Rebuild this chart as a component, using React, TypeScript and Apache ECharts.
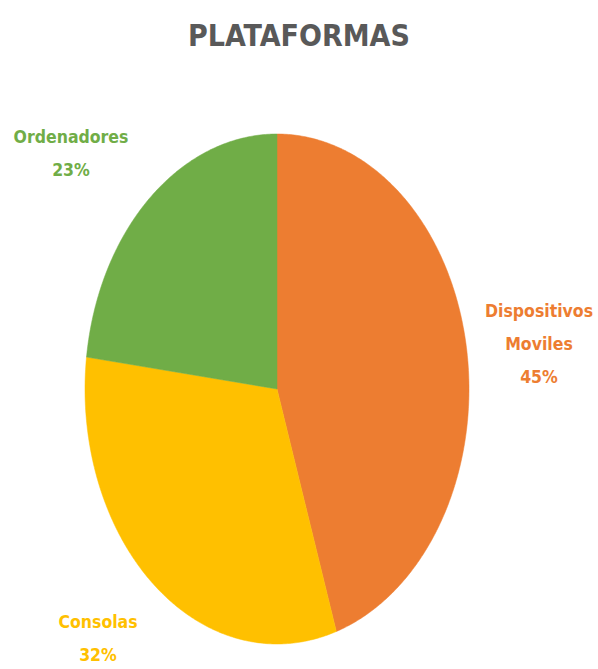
import React, { useEffect, useRef } from "react";
import * as echarts from "echarts";

const categories = ["Dispositivos Moviles", "Consolas", "Ordenadores"];
const labelLines = ["Dispositivos\nMoviles", "Consolas", "Ordenadores"];
const values = [45, 32, 23];
const colors = ["#ED7D31", "#FFC000", "#70AD47"];
const titleText = "PLATAFORMAS";

// layout (pixels)
const CX = 277;
const CY = 389;
const RX = 192;
const RY = 255;
const labelPos: [number, number][] = [
  [539, 344],
  [98, 638],
  [71, 153],
];

export default function App() {
  const ref = useRef<HTMLDivElement>(null);
  useEffect(() => {
    document.body.style.margin = "0";
    const chart = echarts.init(ref.current!, null, { renderer: "svg" });
    const total = values.reduce((a, b) => a + b, 0);
    const starts: number[] = [];
    let acc = 0;
    values.forEach((v) => {
      starts.push(acc);
      acc += v;
    });
    const font = "bold 17.5px 'DejaVu Sans Condensed', sans-serif";
    chart.setOption({
      animation: false,
      title: {
        text: titleText,
        left: "center",
        top: 15,
        textStyle: {
          color: "#595959",
          fontSize: 30,
          fontWeight: "bold",
          fontFamily: "'DejaVu Sans Condensed', sans-serif",
        },
      },
      series: [
        {
          type: "custom",
          coordinateSystem: "none",
          data: categories.map((c, i) => ({ name: c, value: values[i] })),
          renderItem: (params: any, api: any) => {
            const i = params.dataIndex;
            const v = api.value(0) as number;
            const a0 = (starts[i] / total) * Math.PI * 2;
            const a1 = ((starts[i] + v) / total) * Math.PI * 2;
            const pts: number[][] = [[CX, CY]];
            const steps = Math.max(8, Math.ceil((a1 - a0) / 0.01));
            for (let k = 0; k <= steps; k++) {
              const t = a0 + ((a1 - a0) * k) / steps;
              pts.push([CX + RX * Math.sin(t), CY - RY * Math.cos(t)]);
            }
            const pct = Math.round((v / total) * 100) + "%";
            return {
              type: "group",
              children: [
                {
                  type: "polygon",
                  shape: { points: pts },
                  style: { fill: colors[i], stroke: colors[i], lineWidth: 0.5 },
                },
                {
                  type: "text",
                  x: labelPos[i][0],
                  y: labelPos[i][1],
                  style: {
                    text: labelLines[i] + "\n" + pct,
                    fill: colors[i],
                    font,
                    align: "center",
                    verticalAlign: "middle",
                    lineHeight: 33,
                  },
                },
              ],
            };
          },
        },
      ],
    });
    return () => chart.dispose();
  }, []);
  return <div ref={ref} style={{ width: 598, height: 669 }} />;
}
